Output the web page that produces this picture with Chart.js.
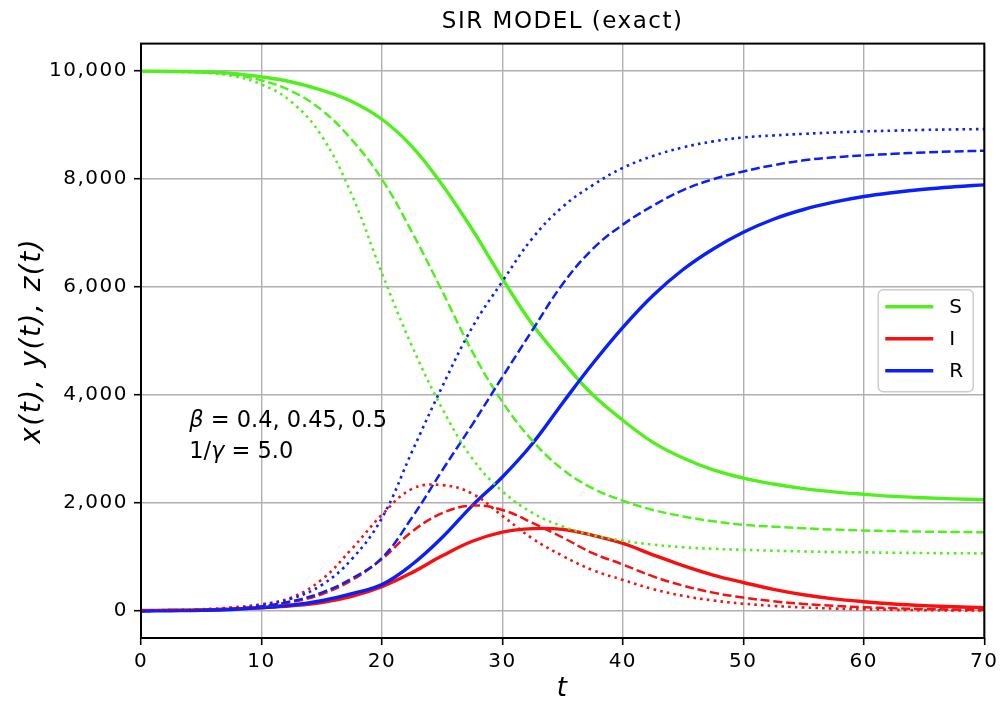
<!DOCTYPE html>
<html>
<head>
<meta charset="utf-8">
<script src="https://cdn.jsdelivr.net/npm/chart.js@4.4.1/dist/chart.umd.min.js"></script>
<style>
  html, body { margin: 0; padding: 0; background: #fff; }
</style>
</head>
<body>
<canvas id="chart" width="1002" height="704"></canvas>
<script>
// time grid (days)
const tValues = [0, 2.5, 5, 7.5, 10, 12.5, 15, 17.5, 20, 22.5, 25, 27.5, 30, 32.5, 35,
  37.5, 40, 42.5, 45, 47.5, 50, 52.5, 55, 57.5, 60, 62.5, 65, 67.5, 70]

// beta = 0.4
const S_b040 = [9990, 9985, 9975, 9950, 9885, 9790, 9640, 9430, 9100, 8595, 7890, 7060, 6150, 5300, 4620,
  4000, 3530, 3120, 2830, 2610, 2460, 2350, 2265, 2205, 2160, 2120, 2095, 2075, 2060]
const I_b040 = [10, 14, 20, 35, 60, 95, 155, 270, 450, 710, 1020, 1290, 1460, 1525, 1510,
  1400, 1250, 1040, 840, 665, 527, 400, 300, 225, 172, 130, 100, 78, 60]
const R_b040 = [0, 5, 12, 28, 62, 110, 190, 320, 490, 860, 1360, 1950, 2480, 3100, 3850,
  4580, 5250, 5840, 6320, 6700, 7010, 7250, 7430, 7565, 7670, 7745, 7805, 7850, 7886]

// beta = 0.45
const S_b045 = [9990, 9985, 9970, 9930, 9820, 9620, 9270, 8720, 7990, 7010, 5920, 4800, 3870, 3150, 2620,
  2270, 2040, 1870, 1750, 1660, 1595, 1560, 1530, 1507, 1490, 1478, 1468, 1462, 1457]
const I_b045 = [10, 16, 27, 48, 85, 165, 310, 570, 960, 1470, 1810, 1950, 1870, 1630, 1360,
  1070, 860, 640, 470, 340, 248, 180, 131, 95, 69, 50, 36, 26, 19]
const R_b045 = [0, 6, 15, 35, 85, 180, 340, 600, 980, 1730, 2600, 3450, 4330, 5200, 6050,
  6700, 7150, 7500, 7790, 7990, 8134, 8250, 8340, 8395, 8430, 8460, 8485, 8503, 8517]

// beta = 0.5
const S_b050 = [9990, 9982, 9962, 9905, 9745, 9420, 8790, 7700, 6250, 4900, 3750, 2820, 2215, 1815, 1565,
  1405, 1300, 1228, 1180, 1150, 1132, 1115, 1102, 1092, 1085, 1078, 1073, 1069, 1066]
const I_b050 = [10, 18, 32, 65, 125, 250, 580, 1150, 1780, 2260, 2330, 2170, 1760, 1340, 1020,
  756, 575, 405, 280, 195, 135, 94, 65, 45, 32, 22, 15, 11, 8]
const R_b050 = [0, 8, 20, 45, 110, 230, 480, 960, 1720, 2950, 4150, 5250, 6100, 6900, 7480,
  7880, 8200, 8420, 8580, 8690, 8764, 8800, 8830, 8855, 8875, 8890, 8903, 8912, 8918]

const xTicks = [0, 10, 20, 30, 40, 50, 60, 70]
const yTicks = [0, 2000, 4000, 6000, 8000, 10000]
const legendLabels = ['S', 'I', 'R']

const GREEN = '#50f01c'
const RED = '#f81010'
const BLUE = '#0a20fa'
const SANS = "'DejaVu Sans', 'Noto Sans', sans-serif"
const TICK_FONT = { family: SANS, size: 20 }

const lineStyles = {
  solid: { borderWidth: 3.4, borderDash: [] },
  dashed: { borderWidth: 2.5, borderDash: [9, 3.8] },
  dotted: { borderWidth: 2.6, borderDash: [2.6, 4.2] },
}

const series = [
  { label: 'S', values: S_b040, color: GREEN, style: 'solid' },
  { label: 'I', values: I_b040, color: RED, style: 'solid' },
  { label: 'R', values: R_b040, color: BLUE, style: 'solid' },
  { label: 'S', values: S_b045, color: GREEN, style: 'dashed' },
  { label: 'I', values: I_b045, color: RED, style: 'dashed' },
  { label: 'R', values: R_b045, color: BLUE, style: 'dashed' },
  { label: 'S', values: S_b050, color: GREEN, style: 'dotted' },
  { label: 'I', values: I_b050, color: RED, style: 'dotted' },
  { label: 'R', values: R_b050, color: BLUE, style: 'dotted' },
]

const datasets = series.map((s, i) => ({
  label: s.label,
  data: tValues.map((t, k) => ({ x: t, y: s.values[k] })),
  borderColor: s.color,
  backgroundColor: s.color,
  borderWidth: lineStyles[s.style].borderWidth,
  borderDash: lineStyles[s.style].borderDash,
  borderCapStyle: 'butt',
  pointRadius: 0,
  fill: false,
  tension: 0.4,
  order: series.length - i, // later series drawn on top
}))

// wider glyph spacing for all chart text (closer to the reference face)
const spacingPlugin = {
  id: 'spacing',
  beforeDraw(chart) { chart.ctx.letterSpacing = '1.5px' },
}

// black frame around the plot area
const framePlugin = {
  id: 'frame',
  afterDatasetsDraw(chart) {
    const { ctx, chartArea: a } = chart
    ctx.save()
    ctx.strokeStyle = '#000'
    ctx.lineWidth = 2
    ctx.strokeRect(a.left, a.top, a.right - a.left, a.bottom - a.top)
    ctx.restore()
  },
}

// legend box at "center right" inside the axes
const legendPlugin = {
  id: 'boxLegend',
  afterDraw(chart) {
    const { ctx, chartArea: a } = chart
    const w = 95, h = 102
    const x = a.right - 11 - w
    const y = (a.top + a.bottom) / 2 - h / 2
    ctx.save()
    ctx.beginPath()
    ctx.roundRect(x, y, w, h, 5)
    ctx.fillStyle = 'rgba(255,255,255,0.85)'
    ctx.fill()
    ctx.strokeStyle = '#cccccc'
    ctx.lineWidth = 1.5
    ctx.stroke()
    const colors = [GREEN, RED, BLUE]
    ctx.font = `20px ${SANS}`
    ctx.textBaseline = 'middle'
    ctx.fillStyle = '#000'
    legendLabels.forEach((lab, i) => {
      const ly = y + 17 + i * 32
      ctx.strokeStyle = colors[i]
      ctx.lineWidth = 3.4
      ctx.beginPath()
      ctx.moveTo(x + 7, ly)
      ctx.lineTo(x + 55, ly)
      ctx.stroke()
      ctx.fillText(lab, x + 71, ly + 1)
    })
    ctx.restore()
  },
}

// parameter note, placed in data coordinates
const notePlugin = {
  id: 'note',
  afterDraw(chart) {
    const { ctx, scales } = chart
    const x0 = scales.x.getPixelForValue(4)
    const y0 = scales.y.getPixelForValue(3400)
    const lines = [
      [{ t: 'β', it: true }, { t: ' = 0.4, 0.45, 0.5' }],
      [{ t: '1/' }, { t: 'γ', it: true }, { t: ' = 5.0' }],
    ]
    ctx.save()
    ctx.letterSpacing = '0px'
    ctx.fillStyle = '#000'
    ctx.textBaseline = 'alphabetic'
    lines.forEach((runs, li) => {
      let x = x0
      runs.forEach(r => {
        ctx.font = `${r.it ? 'italic ' : ''}22.5px ${SANS}`
        ctx.fillText(r.t, x, y0 + li * 31)
        x += ctx.measureText(r.t).width
      })
    })
    ctx.restore()
  },
}

const gridOpts = {
  color: '#b0b0b0',
  lineWidth: 1.4,
  tickColor: '#000',
  tickLength: 7,
  tickWidth: 1.6,
}

new Chart(document.getElementById('chart').getContext('2d'), {
  type: 'line',
  data: { datasets },
  options: {
    responsive: false,
    animation: false,
    devicePixelRatio: 1,
    layout: { padding: { left: 0, right: 16, top: 0, bottom: 0 } },
    plugins: {
      legend: { display: false },
      tooltip: { enabled: false },
      title: {
        display: true,
        fullSize: false,
        text: 'SIR MODEL (exact)',
        color: '#000',
        font: { family: SANS, size: 23, weight: 'normal', lineHeight: 1.2 },
        padding: { top: 8, bottom: 8 },
      },
    },
    scales: {
      x: {
        type: 'linear',
        min: 0,
        max: 70,
        afterBuildTicks: s => { s.ticks = xTicks.map(v => ({ value: v })) },
        afterFit: s => { s.height = 66 },
        ticks: { color: '#000', font: TICK_FONT, padding: 5, maxRotation: 0, autoSkip: false },
        grid: gridOpts,
        border: { display: false },
        title: {
          display: true,
          text: 't',
          color: '#000',
          font: { family: SANS, style: 'italic', size: 26 },
          padding: { top: 0, bottom: -1 },
        },
      },
      y: {
        type: 'linear',
        min: -500,
        max: 10500,
        afterBuildTicks: s => { s.ticks = yTicks.map(v => ({ value: v })) },
        afterFit: s => { s.width = 141 },
        ticks: {
          color: '#000',
          font: TICK_FONT,
          padding: 6,
          callback: v => v.toLocaleString('en-US'),
        },
        grid: gridOpts,
        border: { display: false },
        title: {
          display: true,
          text: 'x(t), y(t), z(t)',
          color: '#000',
          font: { family: SANS, style: 'italic', size: 28 },
          padding: { top: 16, bottom: 0 },
        },
      },
    },
  },
  plugins: [spacingPlugin, framePlugin, legendPlugin, notePlugin],
})
</script>
</body>
</html>
